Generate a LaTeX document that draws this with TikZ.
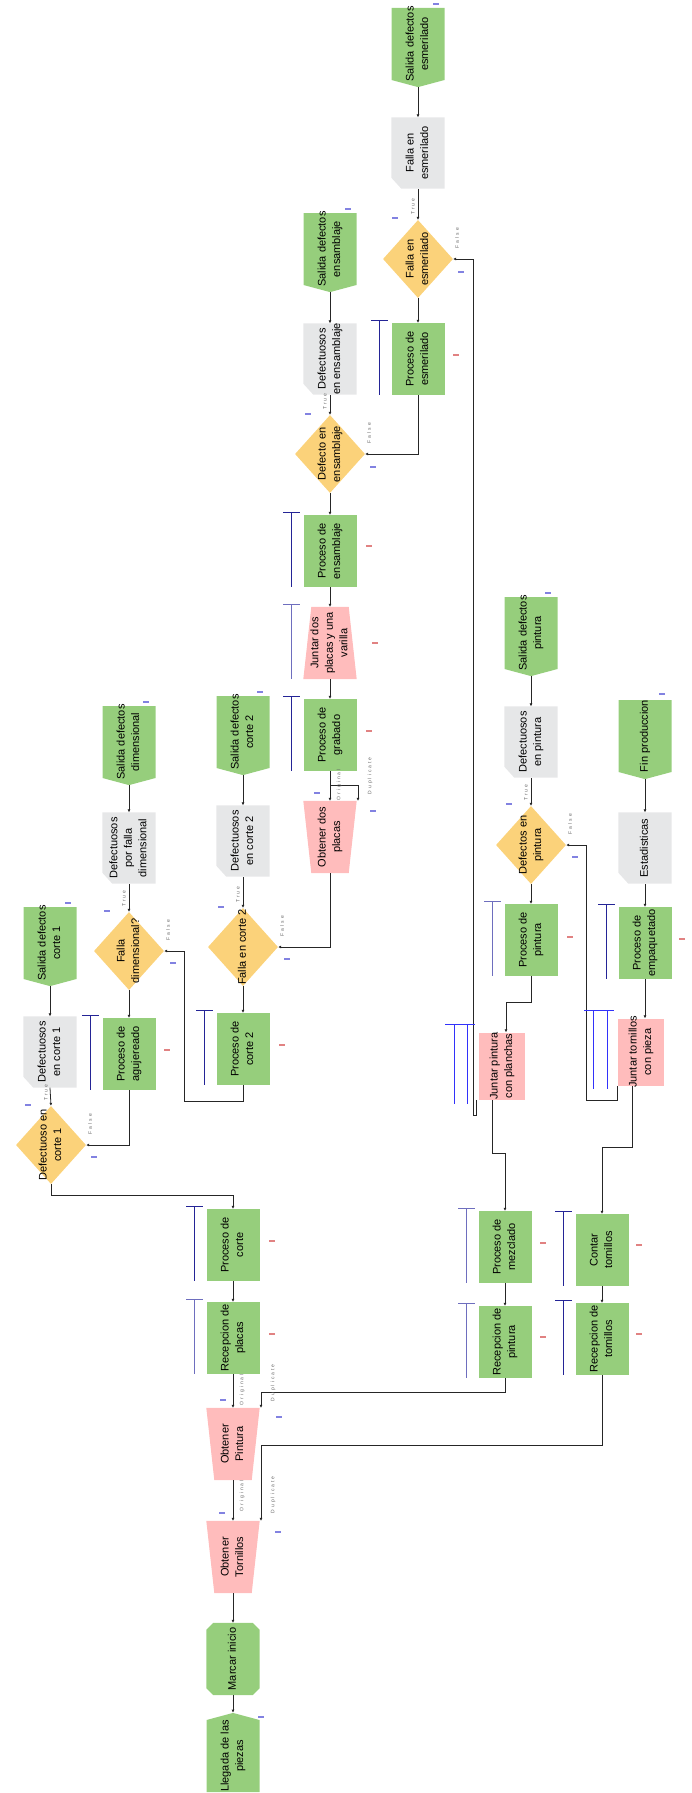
\documentclass[tikz,border=0pt]{standalone}
\usepackage{fontspec}
\setmainfont{Liberation Sans}
\newfontfamily\lblfont[LetterSpace=40]{Liberation Sans}
\usepackage{graphicx}
\usetikzlibrary{arrows.meta}
\usetikzlibrary{calc}
\usetikzlibrary{backgrounds}
\usetikzlibrary{shapes.geometric, shapes.symbols}

\definecolor{verde}{RGB}{150,206,124}
\definecolor{rosa}{RGB}{255,188,188}
\definecolor{gris}{RGB}{230,231,232}
\definecolor{amarillo}{RGB}{251,210,122}
\definecolor{colaA}{RGB}{36,36,150}
\definecolor{colaB}{RGB}{110,110,190}
\definecolor{colaC}{RGB}{50,50,250}
\definecolor{marcaA}{RGB}{130,130,225}
\definecolor{marcaR}{RGB}{225,130,130}

% texto girado de los bloques
\newcommand{\rt}[1]{\makebox[0pt]{\raisebox{-.5\height}[0pt][0pt]{\rotatebox{90}{\begin{tabular}{@{}c@{}}#1\end{tabular}}}}}
% etiquetas pequenas de las conexiones
\newcommand{\rl}[1]{\rotatebox{90}{\lblfont\fontsize{5}{6}\selectfont #1}}
% relleno de trapecio: nodo, recorte arriba, recorte abajo
\newcommand{\trapecio}[3]{\fill[rosa] ([xshift=#2]#1.north west) -- ([xshift=-#2]#1.north east) -- ([xshift=-#3]#1.south east) -- ([xshift=#3]#1.south west) -- cycle;}

\begin{document}
\begin{tikzpicture}[
        x=1pt, y=-1pt,
        font=\fontsize{11}{14.5}\selectfont,
        proc/.style={rectangle, fill=verde, minimum width=53pt, minimum height=72pt, inner sep=0pt},
        salida/.style={signal, signal to=south, signal from=nowhere, signal pointer angle=150, fill=verde, minimum width=53pt, minimum height=72pt, inner sep=0pt},
        llegada/.style={salida, signal to=north},
        inicio/.style={rectangle, minimum width=53pt, minimum height=72pt, inner sep=0pt},
        defect/.style={rectangle, minimum width=53pt, minimum height=71pt, inner sep=0pt},
        decision/.style={diamond, fill=amarillo, minimum width=70pt, minimum height=78pt, inner sep=0pt},
        obtener/.style={rectangle, minimum width=53pt, minimum height=72pt, inner sep=0pt},
        juntar/.style={rectangle, fill=rosa, minimum width=46pt, minimum height=67pt, inner sep=0pt},
        flow/.style={{Latex[length=3pt,width=3pt]}-, line width=0.8pt, black!85},
        lbl/.style={inner sep=0pt, text=black!60},
        cola/.style={line width=0.8pt}
    ]
        \useasboundingbox (0,0) rectangle (691,1793);

        % --- Columna principal ---
        \node[llegada] (lleg) at (233,1756) {\rt{Llegada de las\\piezas}};
        \node[inicio] (mini) at (233,1659) {\rt{Marcar inicio}};
        \node[obtener] (otor) at (233,1557) {\rt{Obtener\\Tornillos}};
        \node[obtener] (opin) at (233,1444) {\rt{Obtener\\Pintura}};
        \node[proc] (rpla) at (233,1338) {\rt{Recepcion de\\placas}};
        \node[proc] (pcor) at (233,1245) {\rt{Proceso de\\corte}};

        % --- Corte 1 ---
        \node[decision] (dc1) at (51,1145) {\rt{Defectuoso en\\corte 1}};
        \node[defect] (fc1) at (50,1052) {\rt{Defectuosos\\en corte 1}};
        \node[salida] (sc1) at (50,943) {\rt{Salida defectos\\corte 1}};

        % --- Agujereado ---
        \node[proc] (pagu) at (129,1054) {\rt{Proceso de\\agujereado}};
        \node[decision] (ddim) at (129,951) {\rt{Falla\\dimensional?}};
        \node[defect] (fdim) at (129,848) {\rt{Defectuosos\\por falla\\dimensional}};
        \node[salida] (sdim) at (129,742) {\rt{Salida defectos\\dimensional}};

        % --- Corte 2 ---
        \node[proc] (pc2) at (243,1049) {\rt{Proceso de\\corte 2}};
        \node[decision] (dc2) at (243,947) {\rt{Falla en corte 2}};
        \node[defect] (fc2) at (243,841) {\rt{Defectuosos\\en corte 2}};
        \node[salida] (sc2) at (243,732) {\rt{Salida defectos\\corte 2}};

        % --- Grabado y ensamblaje ---
        \node[obtener] (odos) at (330,837) {\rt{Obtener dos\\placas}};
        \node[proc] (pgra) at (330,735) {\rt{Proceso de\\grabado}};
        \node[obtener] (jdos) at (330,643) {\rt{Juntar dos\\placas y una\\varilla}};
        \node[proc] (pens) at (330,551) {\rt{Proceso de\\ensamblaje}};
        \node[decision] (dens) at (330,454) {\rt{Defecto en\\ensamblaje}};
        \node[defect] (fens) at (330,359) {\rt{Defectuosos\\en ensamblaje}};
        \node[salida] (sens) at (330,249) {\rt{Salida defectos\\ensamblaje}};

        % --- Esmerilado ---
        \node[proc] (pesm) at (418,359) {\rt{Proceso de\\esmerilado}};
        \node[decision] (desm) at (418,259) {\rt{Falla en\\esmerilado}};
        \node[defect] (fesm) at (418,153) {\rt{Falla en\\esmerilado}};
        \node[salida] (sesm) at (418,44) {\rt{Salida defectos\\esmerilado}};

        % --- Pintura ---
        \node[proc] (rpin) at (505,1342) {\rt{Recepcion de\\pintura}};
        \node[proc] (pmez) at (505,1247) {\rt{Proceso de\\mezclado}};
        \node[juntar] (jpin) at (502,1066) {\rt{Juntar pintura\\con planchas}};
        \node[proc] (ppin) at (531,940) {\rt{Proceso de\\pintura}};
        \node[decision] (dpin) at (531,845) {\rt{Defectos en\\pintura}};
        \node[defect] (fpin) at (531,742) {\rt{Defectuosos\\en pintura}};
        \node[salida] (spin) at (531,633) {\rt{Salida defectos\\pintura}};

        % --- Tornillos y empaquetado ---
        \node[proc] (rtor) at (602,1339) {\rt{Recepcion de\\tornillos}};
        \node[proc] (ctor) at (602,1250) {\rt{Contar\\tornillos}};
        \node[juntar] (jtor) at (641,1052) {\rt{Juntar tornillos\\con pieza}};
        \node[proc] (pemp) at (645,943) {\rt{Proceso de\\empaquetado}};
        \node[defect] (est) at (645,848) {\rt{Estadisticas}};
        \node[salida] (fin) at (645,736) {\rt{Fin produccion}};

        % --- Rellenos de formas especiales (detras del texto) ---
        \begin{pgfonlayer}{background}
            \trapecio{otor}{0pt}{8pt}
            \trapecio{opin}{0pt}{8pt}
            \trapecio{odos}{0pt}{8pt}
            \trapecio{jdos}{8pt}{0pt}
            \foreach \n in {fc1, fdim, fc2, fens, fesm, fpin, est}
                \fill[gris] (\n.north west) -- (\n.north east) -- (\n.south east)
                    -- ([xshift=10pt]\n.south west) -- ([yshift=11pt]\n.south west) -- cycle;
            \fill[verde] ([xshift=7pt]mini.north west) -- ([xshift=-7pt]mini.north east)
                -- ([yshift=-7pt]mini.north east) -- ([yshift=7pt]mini.south east)
                -- ([xshift=-7pt]mini.south east) -- ([xshift=7pt]mini.south west)
                -- ([yshift=7pt]mini.south west) -- ([yshift=-7pt]mini.north west) -- cycle;
        \end{pgfonlayer}

        % --- Conexiones ---
        \draw[flow] (lleg.north) -- (mini.south);
        \draw[flow] (mini.north) -- (otor.south);
        \draw[flow] (otor.north) -- (opin.south);
        \draw[flow] ([xshift=28pt]otor.north) -- ++(0,-75) -| (rtor.south);
        \draw[flow] (opin.north) -- (rpla.south);
        \draw[flow] ([xshift=28pt]opin.north) -- ++(0,-15) -| (rpin.south);
        \draw[flow] (rpla.north) -- (pcor.south);
        \draw[flow] (pcor.north) -- ++(0,-13) -| (dc1.south);
        \draw[flow] (dc1.north) -- (fc1.south);
        \draw[flow] (fc1.north) -- (sc1.south);
        \draw[flow] (dc1.east) -| (pagu.south);
        \draw[flow] (pagu.north) -- (ddim.south);
        \draw[flow] (ddim.north) -- (fdim.south);
        \draw[flow] (fdim.north) -- (sdim.south);
        \draw[flow] (ddim.east) -- ++(20,0) -- ++(0,150) -| (pc2.south);
        \draw[flow] (pc2.north) -- (dc2.south);
        \draw[flow] (dc2.north) -- (fc2.south);
        \draw[flow] (fc2.north) -- (sc2.south);
        \draw[flow] (dc2.east) -| (odos.south);
        \draw[flow] (odos.north) -- (pgra.south);
        \draw[flow] ([xshift=28pt]odos.north) -- ++(0,-15) -| (pgra.south);
        \draw[flow] (pgra.north) -- (jdos.south);
        \draw[flow] (jdos.north) -- (pens.south);
        \draw[flow] (pens.north) -- (dens.south);
        \draw[flow] (dens.north) -- (fens.south);
        \draw[flow] (fens.north) -- (sens.south);
        \draw[flow] (dens.east) -| (pesm.south);
        \draw[flow] (pesm.north) -- (desm.south);
        \draw[flow] (desm.north) -- (fesm.south);
        \draw[flow] (fesm.north) -- (sesm.south);
        \draw[flow] (desm.east) -- ++(20,0) |- ([shift={(-2pt,-16pt)}]jpin.south west) -- ([xshift=-2pt]jpin.south west);
        \draw[flow] (rpin.north) -- (pmez.south);
        \draw[flow] (pmez.north) -- ++(0,-57) -| ([xshift=-10pt]jpin.south);
        \draw[flow] ([xshift=4pt]jpin.north) -- ++(0,-30) -| (ppin.south);
        \draw[flow] (ppin.north) -- (dpin.south);
        \draw[flow] (dpin.north) -- (fpin.south);
        \draw[flow] (fpin.north) -- (spin.south);
        \draw[flow] (dpin.east) -- ++(20,0) |- ([yshift=-15pt]jtor.south west) -- (jtor.south west);
        \draw[flow] (rtor.north) -- (ctor.south);
        \draw[flow] (ctor.north) -- ++(0,-66) -| ([xshift=-9pt]jtor.south);
        \draw[flow] ([xshift=4pt]jtor.north) -- (pemp.south);
        \draw[flow] (pemp.north) -- (est.south);
        \draw[flow] (est.north) -- (fin.south);

        % --- Etiquetas de las ramas ---
        \foreach \d in {dc1, ddim, dc2, dens, desm, dpin} {
            \node[lbl] (t\d) at ([shift={(-5pt,13pt)}]\d.north) {\rl{True}};
            \node[lbl] (f\d) at ([shift={(4pt,21pt)}]\d.east) {\rl{False}};
        }
        \foreach \o/\a/\b in {otor/25/26, opin/18/25, odos/16/25} {
            \node[lbl] (o\o) at ([shift={(9pt,\a pt)}]\o.north) {\rl{Original}};
            \node[lbl] (d\o) at ([shift={(40pt,\b pt)}]\o.north) {\rl{Duplicate}};
        }

        % --- Barras de cola ---
        \foreach \n/\c in {pesm/colaA, pens/colaA, jdos/colaB, pgra/colaA, pc2/colaA, pagu/colaA, pcor/colaA, rpla/colaB, pmez/colaB, rpin/colaB, ctor/colaA, rtor/colaA, ppin/colaB, pemp/colaA} {
            \draw[cola, \c] ([shift={(-47pt,2pt)}]\n.north) -- ([shift={(-30pt,2pt)}]\n.north)
                ([shift={(-39pt,2pt)}]\n.north) -- ([xshift=-39pt]\n.south);
        }
        \draw[cola, colaC] ([shift={(-57pt,8pt)}]jpin.north) -- ([shift={(-27pt,8pt)}]jpin.north)
            ([shift={(-48pt,8pt)}]jpin.north) -- ([shift={(-48pt,-4pt)}]jpin.south)
            ([shift={(-35pt,8pt)}]jpin.north) -- ([shift={(-35pt,-4pt)}]jpin.south);
        \draw[cola, colaC] ([shift={(-57pt,8pt)}]jtor.north) -- ([shift={(-27pt,8pt)}]jtor.north)
            ([shift={(-48pt,8pt)}]jtor.north) -- ([shift={(-48pt,-3pt)}]jtor.south)
            ([shift={(-34pt,8pt)}]jtor.north) -- ([shift={(-34pt,-3pt)}]jtor.south);

        % --- Marcas pequenas ---
        \foreach \x/\y in {436/4, 348/209, 260/692, 146/702, 68/903, 548/593, 662/694, 261/1717,
            395/218, 461/272, 308/414, 373/467, 221/907, 287/959, 107/911, 173/963,
            28/1105, 94/1157, 509/804, 575/857, 317/793, 373/811, 223/1400, 279/1417, 222/1513, 278/1532}
            \draw[marcaA, line width=1.5pt] (\x-3,\y) -- (\x+3,\y);
        \foreach \x/\y in {456/355, 369/546, 375/643, 369/731, 282/1045, 167/1050, 272/1241, 272/1334,
            543/1243, 543/1337, 639/1245, 639/1334, 570/937, 682/939}
            \draw[marcaR, line width=1.5pt] (\x-3,\y) -- (\x+3,\y);
    \end{tikzpicture}
\end{document}
